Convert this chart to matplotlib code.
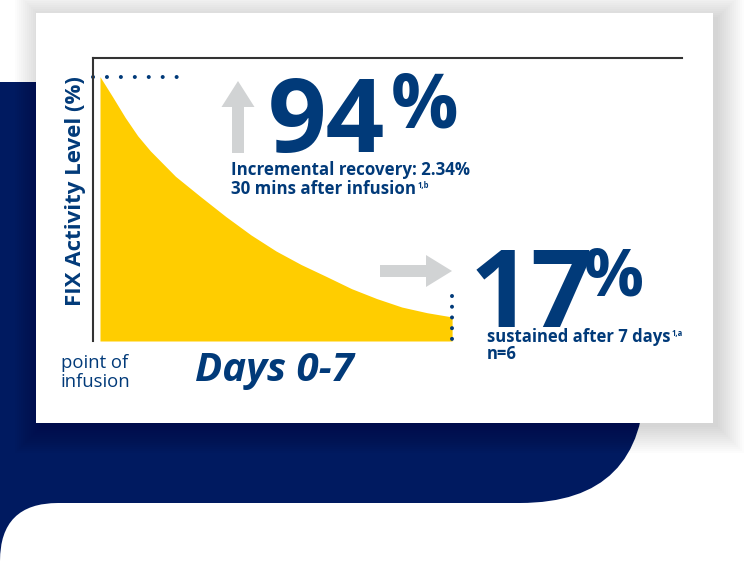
import numpy as np
import matplotlib
matplotlib.use("Agg")
import matplotlib.pyplot as plt
from matplotlib.patches import FancyBboxPatch, Rectangle, FancyArrow

plt.rcParams['font.family'] = ['Open Sans', 'DejaVu Sans']

# FIX activity (percent of axis height)
days = [0, 0.25, 0.5, 0.75, 1, 1.5, 2, 2.5, 3, 3.5, 4, 4.5, 5, 5.5, 6, 6.5, 7]
fix_level = [93.4, 86.3, 79, 72.5, 67.2, 58.2, 51, 44, 37.5, 31.8, 27, 22.8, 18.5,
             15, 12, 10, 8.5]

peak_label = "94"
end_label = "17"
peak_note = ["Incremental recovery: 2.34%", "30 mins after infusion"]
end_note = ["sustained after 7 days", "n=6"]

NAVY_BG = '#001a60'
NAVY = '#013a79'
YELLOW = '#ffcd00'
GREY = '#d1d3d4'

W, H = 750, 564
fig = plt.figure(figsize=(W / 100, H / 100), dpi=100)

# background layer in pixel coords
bg = fig.add_axes([0, 0, 1, 1], zorder=0)
bg.set_xlim(0, W)
bg.set_ylim(H, 0)
bg.axis('off')

bg.add_patch(FancyBboxPatch((-300, 82), 945, 421, boxstyle="round,pad=0,rounding_size=125",
                            fc=NAVY_BG, ec='none'))
bg.add_patch(Rectangle((0, 480), 80, 100, fc=NAVY_BG, ec='none'))
bg.add_patch(FancyBboxPatch((0, 503), 1000, 300, boxstyle="round,pad=0,rounding_size=58",
                            fc='white', ec='none'))

# card shadow
for k in range(14):
    s = 2 * k
    bg.add_patch(Rectangle((36 - s + 5, 13 - s + 4), 677 + 2 * s, 410 + 2 * s,
                           fc='black', ec='none', alpha=0.012))
bg.add_patch(Rectangle((36, 13), 677, 410, fc='white', ec='none'))

# chart axes
x0, x1, y0, y1 = 92.7, 682, 58, 341
ax = fig.add_axes([x0 / W, (H - y1) / H, (x1 - x0) / W, (y1 - y0) / H], zorder=1)
ax.patch.set_alpha(0)
day_px = 50.3
ax.set_xlim((x0 - 100) / day_px, (x1 - 100) / day_px)
ax.set_ylim(0, 100)
ax.set_xticks([])
ax.set_yticks([])
for side in ['right', 'bottom']:
    ax.spines[side].set_visible(False)
for side in ['top', 'left']:
    ax.spines[side].set_color('#333333')
    ax.spines[side].set_linewidth(1.5)

ax.fill_between(days, fix_level, 0, color=YELLOW, lw=0)
ax.plot([-0.13, 1.56], [fix_level[0], fix_level[0]], color=NAVY, lw=2.9,
        ls=(0, (0.01, 3.45)), dash_capstyle='round', clip_on=False)
ax.plot([days[-1], days[-1]], [15.8, 0.6], color=NAVY, lw=2.9,
        ls=(0, (0.01, 2.65)), dash_capstyle='round', clip_on=False)

# text / arrows layer
top = fig.add_axes([0, 0, 1, 1], zorder=2)
top.set_xlim(0, W)
top.set_ylim(H, 0)
top.axis('off')
top.patch.set_alpha(0)

top.add_patch(FancyArrow(238, 153, 0, -72, width=12, head_width=33, head_length=26,
                         length_includes_head=True, fc=GREY, ec='none'))
top.add_patch(FancyArrow(380, 271, 72, 0, width=12, head_width=32, head_length=26,
                         length_includes_head=True, fc=GREY, ec='none'))

top.text(268, 152, peak_label, fontsize=74, fontweight='bold', color=NAVY, va='baseline')
top.text(391, 128, "%", fontsize=54, fontweight='bold', color=NAVY, va='baseline')
top.text(231, 175, peak_note[0], fontsize=12.2, fontweight='bold', color=NAVY, va='baseline')
t = top.text(231, 194, peak_note[1], fontsize=12.2, fontweight='bold', color=NAVY, va='baseline')
top.annotate("1,b", xy=(1, 1), xycoords=t, xytext=(1, -1), textcoords='offset points',
             fontsize=5.5, fontweight='bold', color=NAVY, va='top')

top.text(470, 327, end_label, fontsize=78, fontweight='bold', color=NAVY, va='baseline')
top.text(584, 295, "%", fontsize=48, fontweight='bold', color=NAVY, va='baseline')
t = top.text(487, 342, end_note[0], fontsize=12, fontweight='bold', color=NAVY, va='baseline')
top.annotate("1,a", xy=(1, 1), xycoords=t, xytext=(1, -1), textcoords='offset points',
             fontsize=5.5, fontweight='bold', color=NAVY, va='top')
top.text(487, 359, end_note[1], fontsize=12, fontweight='bold', color=NAVY, va='baseline')

top.text(75, 191, "FIX Activity Level (%)", fontsize=16, fontweight='bold', color=NAVY,
         rotation=90, ha='center', va='center')
top.text(61, 387, "point of\ninfusion", fontsize=13.3, color=NAVY, va='baseline',
         linespacing=1.1)
top.text(195, 381, "Days 0-7", fontsize=29, fontweight='bold', fontstyle='italic',
         color=NAVY, va='baseline')

fig.savefig("out.png", dpi=100)
